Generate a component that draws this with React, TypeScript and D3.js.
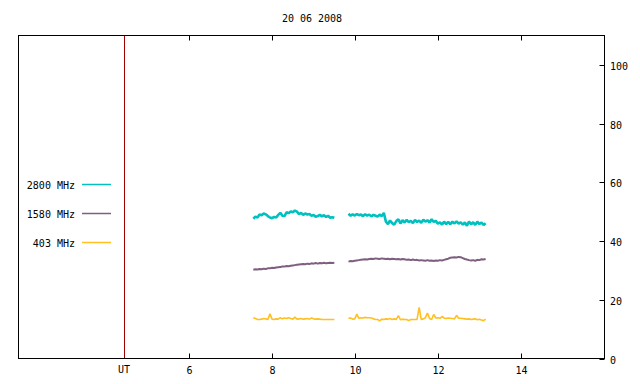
import React from "react";
import * as d3 from "d3";

// sample grid (hours UT), one value every 0.05 h
const seg1Start = 7.55;
const seg2Start = 9.84;
const step = 0.05;

const f2800a = [47.6,48.3,48.0,49.0,48.8,49.4,49.1,48.5,48.0,47.8,48.2,48.0,48.9,49.6,48.6,48.5,49.8,49.5,50.1,49.8,50.4,50.0,49.2,49.6,48.9,49.4,49.0,49.2,48.6,48.9,48.3,48.5,48.9,48.4,48.8,48.2,48.6,47.9,48.1,47.9];
const f2800b = [49.3,48.6,49.1,48.7,49.2,48.8,49.0,48.5,49.1,48.7,49.0,48.4,48.9,48.6,48.3,49.0,48.5,49.6,46.6,45.8,47.0,46.1,45.6,46.8,47.4,46.0,47.1,46.3,47.2,46.4,46.9,46.1,47.2,46.5,47.0,46.2,47.3,46.6,47.1,46.3,47.4,46.5,46.9,45.9,46.4,45.6,46.6,45.8,46.5,45.7,46.6,46.0,46.7,45.9,46.4,45.6,46.3,45.2,46.6,45.7,46.4,45.5,46.6,45.8,46.3,45.5,46.1];

const f1580a = [30.2,30.4,30.3,30.5,30.4,30.6,30.5,30.7,30.7,30.9,30.8,31.0,31.1,31.2,31.3,31.3,31.5,31.4,31.6,31.7,31.8,31.9,32.0,32.1,32.2,32.1,32.3,32.2,32.4,32.3,32.5,32.3,32.5,32.4,32.6,32.4,32.5,32.6,32.5,32.6];
const f1580b = [33.0,33.2,33.1,33.3,33.4,33.5,33.6,33.7,33.8,33.7,33.9,34.0,33.9,34.1,34.0,33.9,34.1,34.0,33.9,34.0,33.8,34.0,33.9,33.8,33.9,33.7,33.9,33.8,33.6,33.7,33.5,33.7,33.5,33.6,33.4,33.5,33.4,33.3,33.5,33.3,33.4,33.2,33.4,33.3,33.5,33.4,33.6,33.8,34.0,34.3,34.4,34.5,34.4,34.6,34.5,34.2,33.9,33.7,33.5,33.4,33.5,33.3,33.6,33.5,33.8,33.7,33.9];

const f403a = [13.9,13.6,13.3,13.3,13.4,13.6,13.5,13.3,15.2,13.4,13.3,13.5,13.4,13.9,13.5,13.8,13.6,13.9,13.6,13.4,14.1,13.4,13.5,13.6,13.4,13.5,13.6,13.4,13.8,13.5,13.4,13.5,13.4,13.3,13.3,13.3,13.3,13.3,13.3,13.3];
const f403b = [13.7,13.8,13.4,13.5,15.1,13.7,13.9,13.8,14.0,13.9,13.9,13.8,13.5,13.3,13.3,12.8,13.4,13.3,13.5,13.4,13.6,13.3,13.5,13.3,14.6,13.2,13.4,13.3,13.3,12.9,13.3,13.3,13.3,13.3,17.4,13.3,13.5,13.9,15.5,13.6,13.3,15.0,13.8,13.9,13.7,14.3,13.8,13.6,13.8,13.7,13.6,13.5,14.7,13.7,13.7,13.6,13.5,13.4,13.5,13.3,13.4,13.5,13.2,13.4,13.1,12.9,13.4];

const seriesNames = ["2800 MHz", "1580 MHz", "403 MHz"];
const seriesColors = ["#00c0c0", "#7f5f7f", "#ffc020"];
const seriesWidths = [2.6, 2, 1.6];
const seriesData = [
  [f2800a, f2800b],
  [f1580a, f1580b],
  [f403a, f403b],
];

const xTicks = [6, 8, 10, 12, 14];
const yTicks = [0, 20, 40, 60, 80, 100];
const utHour = 4.44;
const title = "20 06 2008";

const W = 640;
const H = 384;
const plot = { left: 18.5, right: 604.5, top: 35.5, bottom: 358.5 };
const font = "'DejaVu Sans Mono', monospace";

const toPoints = (vals: number[], start: number) =>
  vals.map((v, i) => ({ t: start + i * step, v }));

export default function App() {
  const x = d3.scaleLinear().domain([1.9, 16]).range([plot.left, plot.right]);
  const y = d3.scaleLinear().domain([0, 110]).range([plot.bottom, plot.top]);
  const line = d3
    .line<{ t: number; v: number }>()
    .x((d) => x(d.t))
    .y((d) => y(d.v));

  return (
    <svg
      width={W}
      height={H}
      style={{ position: "absolute", left: 0, top: 0, background: "#fff" }}
      fontFamily={font}
      fontSize={10}
    >
      <rect x={0} y={0} width={W} height={H} fill="#fff" />
      <text x={312} y={22} textAnchor="middle" fill="#000">
        {title}
      </text>

      {/* traces */}
      {seriesData.map((segs, si) =>
        segs.map((vals, k) => (
          <path
            key={`${si}-${k}`}
            d={line(toPoints(vals, k === 0 ? seg1Start : seg2Start)) || ""}
            fill="none"
            stroke={seriesColors[si]}
            strokeWidth={seriesWidths[si]}
            strokeLinejoin="bevel"
          />
        ))
      )}

      {/* UT marker */}
      <line
        x1={Math.round(x(utHour)) + 0.5}
        x2={Math.round(x(utHour)) + 0.5}
        y1={plot.top}
        y2={plot.bottom}
        stroke="#a00000"
        strokeWidth={1}
      />

      {/* frame */}
      <rect
        x={plot.left}
        y={plot.top}
        width={plot.right - plot.left}
        height={plot.bottom - plot.top}
        fill="none"
        stroke="#000"
        strokeWidth={1}
      />

      {/* x ticks, bottom and mirrored on top */}
      {xTicks.map((t) => {
        const px = Math.round(x(t)) + 0.5;
        return (
          <g key={t}>
            <line x1={px} x2={px} y1={plot.bottom} y2={plot.bottom - 5} stroke="#000" />
            <line x1={px} x2={px} y1={plot.top} y2={plot.top + 5} stroke="#000" />
            <text x={px} y={374} textAnchor="middle" fill="#000">
              {t}
            </text>
          </g>
        );
      })}
      <text x={Math.round(x(utHour))} y={373} textAnchor="middle" fill="#000">
        UT
      </text>

      {/* right y axis */}
      {yTicks.map((t) => {
        const py = Math.round(y(t)) + 0.5;
        return (
          <g key={t}>
            <line x1={plot.right} x2={plot.right - 5} y1={py} y2={py} stroke="#000" />
            <text x={610} y={py + 4} fill="#000">
              {t}
            </text>
          </g>
        );
      })}

      {/* legend */}
      {seriesNames.map((name, i) => {
        const ly = 184.5 + i * 29;
        return (
          <g key={name}>
            <text x={75} y={ly + 4} textAnchor="end" fill="#000">
              {name}
            </text>
            <line x1={82} x2={111} y1={ly} y2={ly} stroke={seriesColors[i]} strokeWidth={1.5} />
          </g>
        );
      })}
    </svg>
  );
}
